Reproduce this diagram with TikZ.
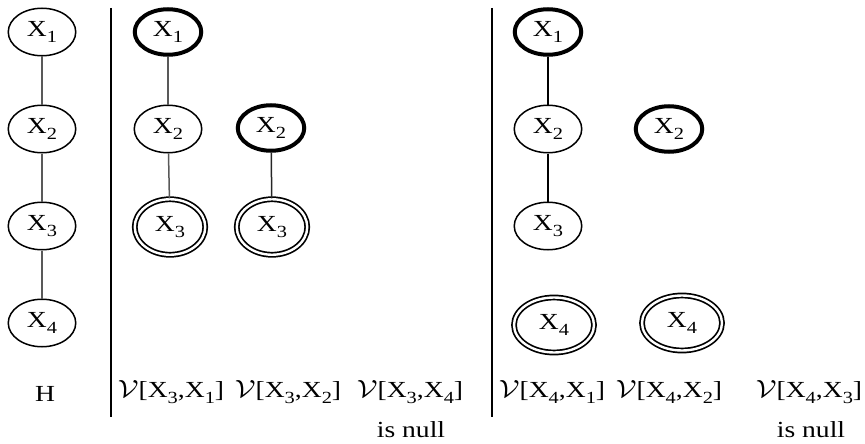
\documentclass[tikz,border=0pt]{standalone}
\usepackage{fontspec}
\setmainfont{Liberation Serif}
\usetikzlibrary{shapes.geometric}
\newcommand\xs[1]{\scalebox{1.2}[1]{#1}}
\newcommand\sbs[1]{\raisebox{-0.27em}{\fontsize{17}{17}\selectfont #1}}
\newcommand\Xv[1]{\xs{X\sbs{#1}}}
\newcommand\Vl[2]{\xs{$\mathcal{V}$[X\sbs{#1},X\sbs{#2}]}}
\begin{document}
\begin{tikzpicture}[x=1pt,y=-1pt,
 every node/.style={font=\fontsize{23}{27}\selectfont},
 vnode/.style={ellipse, draw, line width=1.5pt, minimum width=67.5pt, minimum height=47.5pt, inner sep=0pt},
 thicknode/.style={vnode, line width=4pt, minimum width=66.5pt, minimum height=45.5pt},
 dblnode/.style={vnode, double, line width=1.7pt, double distance=2.4pt, minimum width=70.5pt, minimum height=55.5pt},
 widedbl/.style={dblnode, minimum width=80pt, minimum height=55pt},
 edge/.style={draw=black!65, line width=1.5pt},
 divider/.style={line width=1.4pt},
 lbl/.style={anchor=base, inner sep=0pt}]
\useasboundingbox (0,0) rectangle (865,444);

% column H
\node[vnode] (h1) at (42,32) {\Xv{1}};
\node[vnode] (h2) at (42,129) {\Xv{2}};
\node[vnode] (h3) at (42,226) {\Xv{3}};
\node[vnode] (h4) at (42,323) {\Xv{4}};
\draw[edge] (h1) -- (h2);
\draw[edge] (h2) -- (h3);
\draw[edge] (h3) -- (h4);

% dividers
\coordinate (d1t) at (111,8);
\coordinate (d1b) at (111,417);
\coordinate (d2t) at (492,8);
\coordinate (d2b) at (492,417);
\draw[divider] (d1t) -- (d1b);
\draw[divider] (d2t) -- (d2b);

% V[X3,X1]
\node[thicknode] (a1) at (168,32) {\Xv{1}};
\node[vnode] (a2) at (168,129) {\Xv{2}};
\node[dblnode] (a3) at (170,227) {\Xv{3}};
\draw[edge] (a1) -- (a2);
\draw[edge] (a2) -- (a3);

% V[X3,X2]
\node[thicknode] (b2) at (271,128) {\Xv{2}};
\node[dblnode] (b3) at (272,227) {\Xv{3}};
\draw[edge, draw=black!85] (b2) -- (b3);

% V[X4,X1]
\node[thicknode] (c1) at (548,32) {\Xv{1}};
\node[vnode] (c2) at (548,129) {\Xv{2}};
\node[vnode] (c3) at (548,226) {\Xv{3}};
\node[widedbl] (c4) at (554,325) {\Xv{4}};
\draw[edge, draw=black] (c1) -- (c2);
\draw[edge, draw=black] (c2) -- (c3);

% V[X4,X2]
\node[thicknode] (e2) at (669,129) {\Xv{2}};
\node[widedbl] (e4) at (682,323) {\Xv{4}};

% labels
\node[lbl] (lh) at (45,401) {\xs{H}};
\node[lbl] (la) at (171,397) {\Vl{3}{1}};
\node[lbl] (lb) at (288,397) {\Vl{3}{2}};
\node[lbl] (lc) at (410,397) {\Vl{3}{4}};
\node[lbl] (lcn) at (411,437) {\xs{is null}};
\node[lbl] (ld) at (552,397) {\Vl{4}{1}};
\node[lbl] (le) at (669,397) {\Vl{4}{2}};
\node[lbl] (lf) at (809,397) {\Vl{4}{3}};
\node[lbl] (lfn) at (811,437) {\xs{is null}};
\end{tikzpicture}
\end{document}
